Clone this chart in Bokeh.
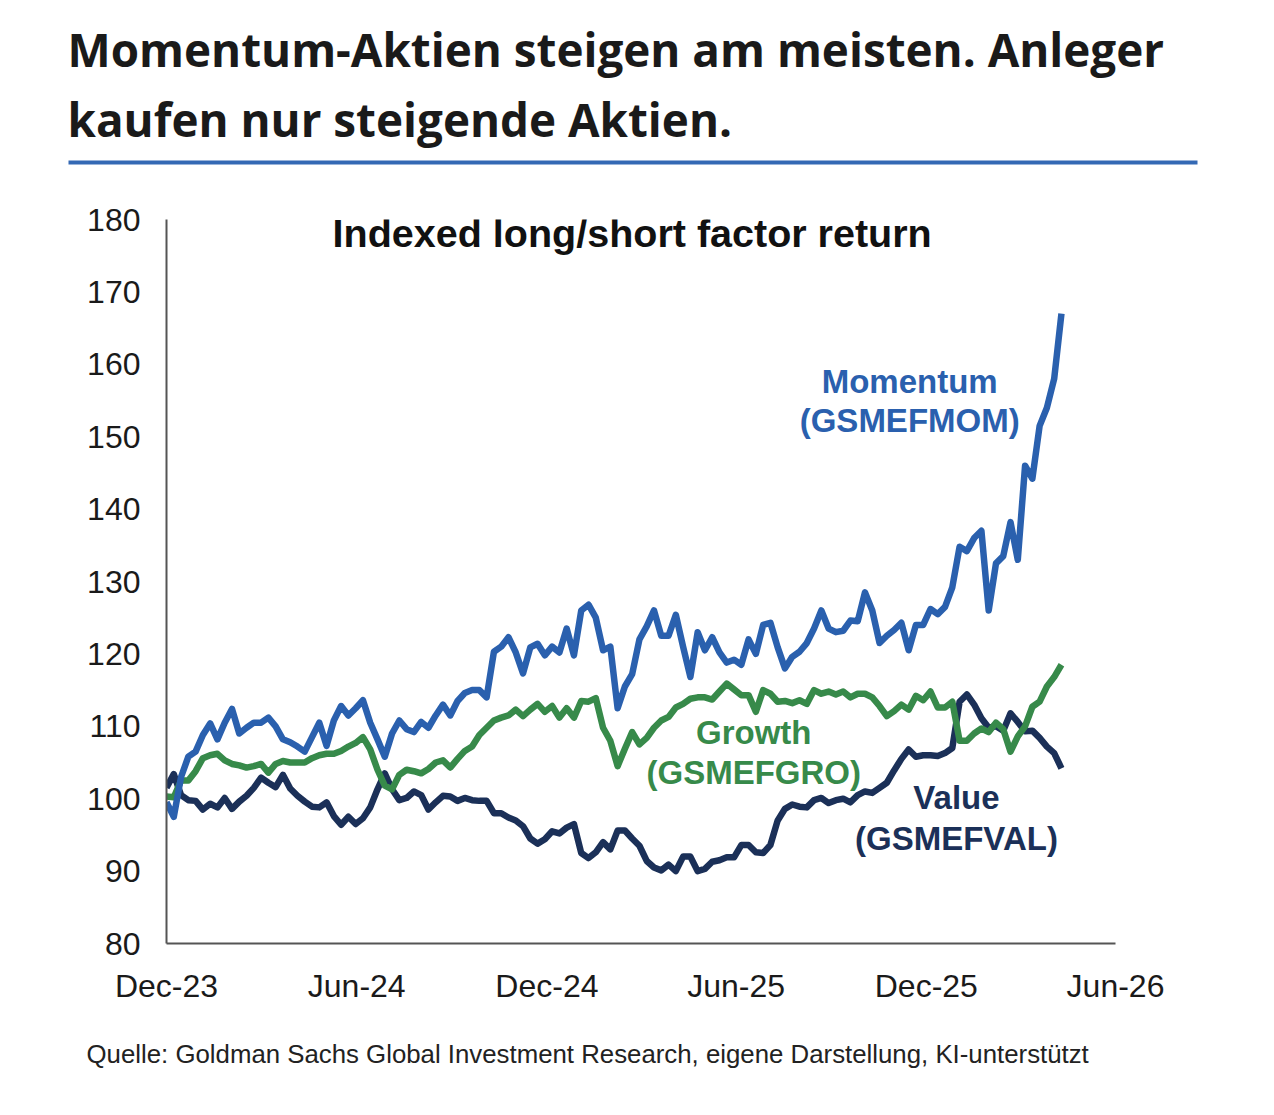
import pandas as pd
from bokeh.plotting import figure
from bokeh.layouts import column, row
from bokeh.models import Label, BoxAnnotation, FixedTicker, DatetimeTickFormatter, Range1d
from bokeh.embed import file_html
from bokeh.resources import INLINE

# ---------------- data (weekly) ----------------
start_date = "2023-12-01"
n_weeks = 124

momentum = [99.5, 97.5, 103.0, 105.8, 106.5, 108.8, 110.4, 108.2, 110.5, 112.4,
            109.0, 109.8, 110.5, 110.5, 111.2, 110.0, 108.2, 107.8, 107.2, 106.5,
            108.5, 110.5, 107.3, 110.8, 112.8, 111.5, 112.5, 113.6, 110.5, 108.2,
            105.8, 109.0, 110.8, 109.6, 109.2, 110.6, 109.8, 111.5, 113.0, 111.5,
            113.5, 114.6, 115.0, 115.0, 114.0, 120.3, 121.0, 122.3, 120.2, 117.3,
            120.9, 121.4, 119.8, 121.0, 120.2, 123.5, 119.8, 126.0, 126.8, 125.0,
            120.5, 121.0, 112.5, 115.5, 117.2, 122.0, 123.8, 126.0, 122.5, 122.5,
            125.4, 121.0, 116.8, 123.0, 120.5, 122.3, 120.2, 118.8, 119.2, 118.5,
            122.0, 120.0, 124.0, 124.3, 120.9, 118.0, 119.6, 120.3, 121.5, 123.5,
            126.0, 123.5, 123.0, 123.2, 124.6, 124.5, 128.5, 126.0, 121.5, 122.5,
            123.3, 124.3, 120.5, 124.0, 124.0, 126.2, 125.5, 126.5, 129.2, 134.8,
            134.2, 136.0, 137.0, 126.0, 132.5, 133.5, 138.2, 133.0, 146.0, 144.2,
            151.5, 154.0, 158.0, 167.0]

growth = [100.3, 100.2, 102.5, 102.5, 103.8, 105.6, 106.0, 106.2, 105.3, 104.8,
          104.6, 104.3, 104.5, 104.8, 103.6, 104.8, 105.2, 105.0, 105.0, 105.0,
          105.6, 106.0, 106.2, 106.2, 106.6, 107.2, 107.7, 108.5, 106.8, 104.0,
          101.8, 101.3, 103.3, 104.0, 103.8, 103.5, 104.1, 105.0, 105.3, 104.3,
          105.5, 106.6, 107.2, 108.8, 109.8, 110.8, 111.2, 111.5, 112.3, 111.4,
          112.3, 113.1, 112.0, 112.8, 111.2, 112.5, 111.2, 113.5, 113.4, 113.9,
          109.8, 108.0, 104.5, 106.9, 109.2, 107.5, 108.4, 109.8, 110.8, 111.3,
          112.6, 113.1, 113.8, 114.0, 114.0, 113.7, 114.8, 115.9, 115.1, 114.3,
          114.3, 112.0, 115.0, 114.5, 113.4, 113.5, 113.2, 113.6, 113.1, 115.0,
          114.5, 114.8, 114.4, 114.8, 114.0, 114.5, 114.5, 114.0, 112.8, 111.4,
          112.1, 113.0, 112.3, 114.2, 113.6, 114.8, 112.6, 112.6, 113.4, 108.0,
          108.0, 109.0, 109.7, 109.2, 110.5, 109.6, 106.5, 108.6, 110.0, 112.7,
          113.4, 115.5, 116.8, 118.5]

value_ = [101.5, 103.4, 100.5, 99.8, 99.7, 98.5, 99.3, 98.8, 100.1, 98.6,
          99.6, 100.4, 101.5, 102.9, 102.2, 101.6, 103.3, 101.4, 100.4, 99.6,
          98.9, 98.8, 99.5, 97.6, 96.4, 97.5, 96.5, 97.3, 98.8, 101.3,
          103.5, 101.3, 99.8, 100.1, 101.0, 100.5, 98.5, 99.5, 100.4, 100.3,
          99.7, 100.1, 99.8, 99.7, 99.7, 98.0, 98.0, 97.4, 97.0, 96.2,
          94.5, 93.8, 94.4, 95.5, 95.2, 96.0, 96.5, 92.5, 91.8, 92.6,
          94.0, 93.0, 95.6, 95.6, 94.5, 93.5, 91.4, 90.5, 90.1, 90.9,
          90.0, 92.0, 92.0, 90.0, 90.3, 91.3, 91.5, 91.9, 91.9, 93.6,
          93.6, 92.6, 92.5, 93.6, 97.0, 98.6, 99.2, 98.9, 98.8, 99.8,
          100.1, 99.4, 99.8, 100.0, 99.5, 100.5, 101.0, 100.8, 101.5, 102.2,
          103.9, 105.5, 106.8, 105.8, 106.0, 106.0, 105.9, 106.3, 107.0, 113.4,
          114.4, 113.0, 111.1, 109.8, 110.0, 109.4, 111.8, 110.6, 109.3, 109.4,
          108.4, 107.2, 106.3, 104.2]

tick_dates = ["2023-12-01", "2024-06-01", "2024-12-01", "2025-06-01", "2025-12-01", "2026-06-01"]
y_ticks = [80, 90, 100, 110, 120, 130, 140, 150, 160, 170, 180]

headline_1 = "Momentum-Aktien steigen am meisten. Anleger"
headline_2 = "kaufen nur steigende Aktien."
chart_title = "Indexed long/short factor return"
source_text = "Quelle: Goldman Sachs Global Investment Research, eigene Darstellung, KI-unterstützt"

C_MOM = "#2a60ae"
C_GRO = "#378a4a"
C_VAL = "#1b3058"
FONT = "Liberation Sans"
W = 1260

dates = pd.date_range(start_date, periods=n_weeks, freq="7D")


def ms(d):
    return pd.Timestamp(d).value // 10**6


def blank(height):
    f = figure(width=W, height=height, output_backend="svg", toolbar_location=None,
               x_range=Range1d(0, W), y_range=Range1d(height, 0),
               x_axis_location=None, y_axis_location=None,
               min_border=0, min_border_left=0, min_border_right=0,
               min_border_top=0, min_border_bottom=0)
    f.title.visible = False
    f.outline_line_color = None
    f.xgrid.visible = False
    f.ygrid.visible = False
    return f


# ---------------- header ----------------
HEAD_H = 190
head = blank(HEAD_H)
head.add_layout(Label(x=67, y=48, text=headline_1, text_font="Open Sans", text_font_style="bold",
                      text_font_size="45.8px", text_color="#1a1a1a", text_baseline="middle"))
head.add_layout(Label(x=67, y=118, text=headline_2, text_font="Open Sans", text_font_style="bold",
                      text_font_size="45.8px", text_color="#1a1a1a", text_baseline="middle"))
head.add_layout(BoxAnnotation(left=68, right=1197, top=160, bottom=164,
                              fill_color="#3469b4", fill_alpha=1.0, line_color=None))

# ---------------- chart ----------------
CH_H = 820
p = figure(width=W, height=CH_H, x_axis_type="datetime",
           output_backend="svg", toolbar_location=None,
           x_range=Range1d(pd.Timestamp(tick_dates[0]), pd.Timestamp(tick_dates[-1])),
           y_range=Range1d(80, 180),
           min_border_left=166, min_border_right=W - 1115,
           min_border_top=219 - HEAD_H, min_border_bottom=CH_H - (943 - HEAD_H))
p.title.visible = False
p.outline_line_color = None
p.xgrid.visible = False
p.ygrid.visible = False

p.line(dates, value_, line_width=6.5, color=C_VAL, line_join="round")
p.line(dates, growth, line_width=6.5, color=C_GRO, line_join="round")
p.line(dates, momentum, line_width=6.5, color=C_MOM, line_join="round")

for ax in (p.xaxis[0], p.yaxis[0]):
    ax.axis_line_color = "#555555"
    ax.axis_line_width = 2
    ax.major_tick_line_color = None
    ax.minor_tick_line_color = None
    ax.major_label_text_font = FONT
    ax.major_label_text_font_size = "32px"
    ax.major_label_text_color = "#1a1a1a"

p.yaxis.ticker = FixedTicker(ticks=y_ticks)
p.yaxis.major_label_standoff = 20
p.xaxis.ticker = FixedTicker(ticks=[ms(d) for d in tick_dates])
p.xaxis.formatter = DatetimeTickFormatter(days="%b-%y", months="%b-%y", years="%b-%y")
p.xaxis.major_label_standoff = 18


def txt(x, y, t, color, size="33px"):
    p.add_layout(Label(x=pd.Timestamp(x), y=y, text=t, text_color=color, text_font=FONT,
                       text_font_size=size, text_font_style="bold",
                       text_align="center", text_baseline="middle"))


txt("2025-02-21", 178.1, chart_title, "#111111", size="39.5px")
txt("2025-11-15", 157.6, "Momentum", C_MOM)
txt("2025-11-15", 152.2, "(GSMEFMOM)", C_MOM)
txt("2025-06-18", 109.1, "Growth", C_GRO)
txt("2025-06-18", 103.6, "(GSMEFGRO)", C_GRO)
txt("2025-12-30", 100.2, "Value", C_VAL)
txt("2025-12-30", 94.5, "(GSMEFVAL)", C_VAL)

# ---------------- footer ----------------
FOOT_H = 85
foot = blank(FOOT_H)
foot.add_layout(Label(x=86, y=1053 - HEAD_H - CH_H, text=source_text, text_font=FONT,
                      text_font_size="25.8px", text_color="#222222", text_baseline="middle"))

layout = column(row(head), p, row(foot), spacing=0)
open("out.html", "w").write(file_html(layout, INLINE))
